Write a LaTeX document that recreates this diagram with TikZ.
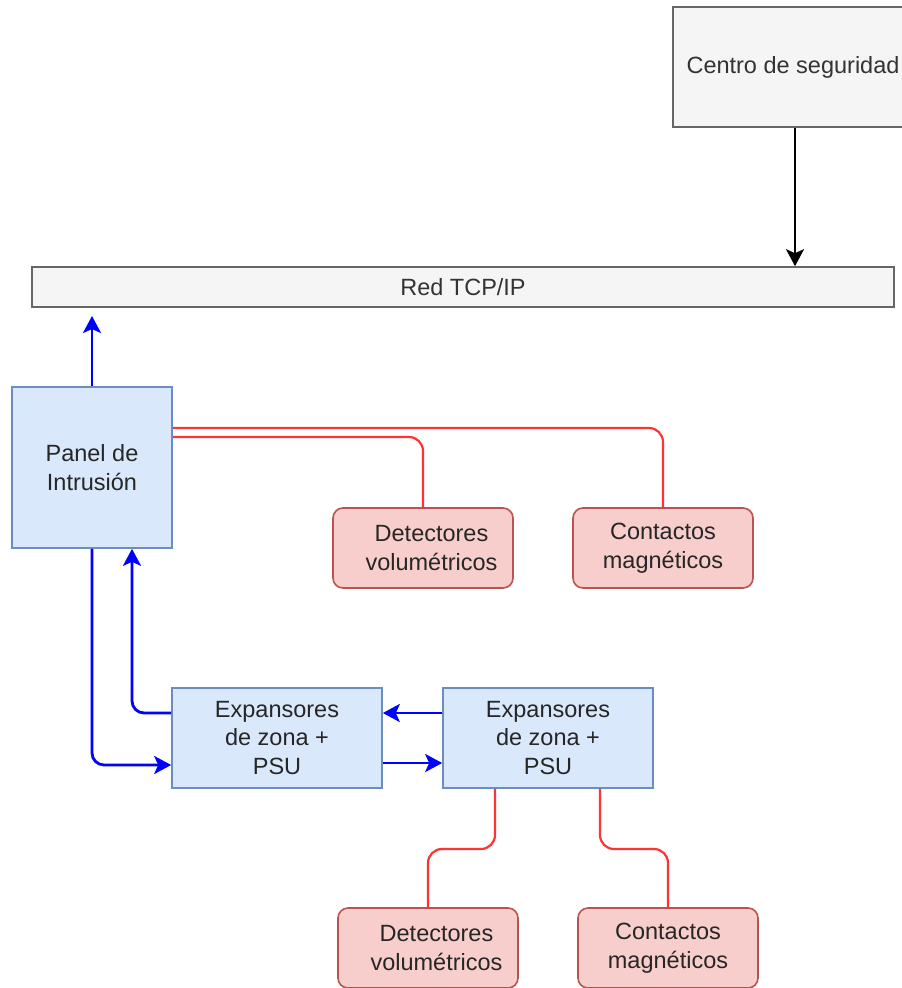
\documentclass[tikz,border=0pt]{standalone}
\usepackage{fontspec}
\setmainfont{Liberation Sans}
\usetikzlibrary{arrows.meta}

\definecolor{greyfill}{HTML}{F5F5F5}
\definecolor{greyline}{HTML}{666666}
\definecolor{greytext}{HTML}{333333}
\definecolor{bluefill}{HTML}{DAE8FC}
\definecolor{blueline}{HTML}{6C8EBF}
\definecolor{redfill}{HTML}{F8CECC}
\definecolor{redline}{HTML}{B85450}
\definecolor{wirered}{HTML}{FF3333}
\definecolor{wireblue}{HTML}{0000FF}

\tikzset{
  box/.style={draw, line width=1.6pt, align=center, inner sep=0pt,
              font=\fontsize{23.5}{28.5}\selectfont},
  greybox/.style={box, draw=greyline, fill=greyfill, text=greytext},
  bluebox/.style={box, draw=blueline, fill=bluefill, text=black!85},
  sensor/.style={box, draw=redline, fill=redfill, text=black!85,
                 rounded corners=10pt,
                 minimum width=180pt, minimum height=80pt},
  tip/.style={-{Stealth[length=17pt,width=18pt,inset=4pt]}},
  blackwire/.style={tip, line width=2pt, draw=black},
  bluewire/.style={tip, line width=2.8pt, draw=wireblue, rounded corners=12pt},
  redwire/.style={line width=2.2pt, draw=wirered, rounded corners=14pt},
}
% leading indent used by the detector labels
\newcommand{\detindent}{\hspace*{17pt}}

\begin{document}
\begin{tikzpicture}[x=1pt, y=-1pt]
  \useasboundingbox (0,0) rectangle (902,988);

  % Monitoring centre and network
  \node[greybox, minimum width=240pt, minimum height=120pt] (centro) at (793,67)
       {Centro de seguridad};
  \node[greybox, minimum width=862pt, minimum height=40pt] (red) at (463,287)
       {Red TCP/IP};

  % Intrusion panel and its sensors
  \node[bluebox, minimum width=160pt, minimum height=161pt] (panel) at (92,467.5)
       {Panel de\\Intrusión};
  \node[sensor] (det1) at (423,548) {\detindent Detectores\\\detindent volumétricos};
  \node[sensor] (con1) at (663,548) {Contactos\\magnéticos};

  % Zone expanders
  \node[bluebox, minimum width=210pt, minimum height=100pt] (exp1) at (277,738)
       {Expansores\\de zona +\\PSU};
  \node[bluebox, minimum width=210pt, minimum height=100pt] (exp2) at (548,738)
       {Expansores\\de zona +\\PSU};

  \node[sensor] (det2) at (428,948) {\detindent Detectores\\\detindent volumétricos};
  \node[sensor] (con2) at (668,948) {Contactos\\magnéticos};

  % Network links
  \coordinate (netin) at (92,316);
  \draw[blackwire] (centro.south -| 795,0) -- (red.north -| 795,0);
  \draw[bluewire] (panel.north) -- (netin);

  % Panel wiring to sensors
  \draw[redwire] (panel.east |- 0,428) -| (con1.north);
  \draw[redwire] (panel.east |- 0,437) -| (det1.north);

  % Bus between panel and expanders
  \draw[bluewire] (panel.south) |- (exp1.west |- 0,765);
  \draw[bluewire] (exp1.west |- 0,713) -| (panel.south -| 132,0);
  \draw[bluewire] (exp2.west |- 0,713) -- (exp1.east |- 0,713);
  \draw[bluewire] (exp1.east |- 0,763) -- (exp2.west |- 0,763);

  % Expander wiring to sensors
  \draw[redwire] (exp2.south -| 495,0) -- (495,849) -| (det2.north);
  \draw[redwire] (exp2.south -| 600,0) -- (600,849) -| (con2.north);
\end{tikzpicture}
\end{document}
